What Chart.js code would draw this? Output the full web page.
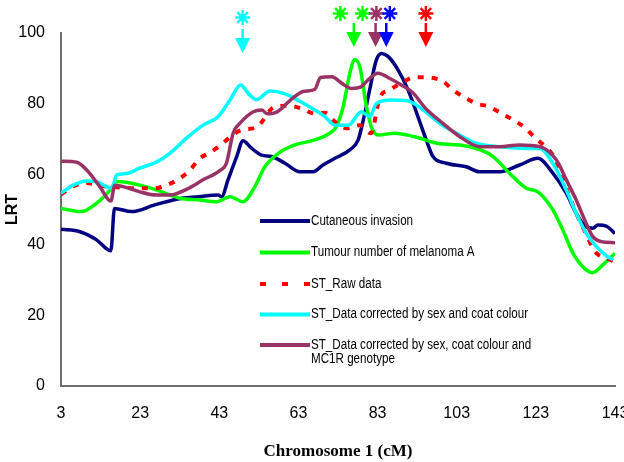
<!DOCTYPE html>
<html>
<head>
<meta charset="utf-8">
<script src="https://cdn.jsdelivr.net/npm/chart.js@4"></script>
<style>
html,body{margin:0;padding:0;background:#fff;}
canvas{display:block;}
</style>
</head>
<body>
<canvas id="c" width="624" height="462"></canvas>
<script>
// ---- data (cM positions and LRT values per series) ----
const xTicks = [3, 23, 43, 63, 83, 103, 123, 143];
const yTicks = [0, 20, 40, 60, 80, 100];

const invasionCM  = [3, 7.8, 12, 15.6, 16.5, 20.8, 26.7, 33.5, 37.7, 42.7, 43.6, 45.2, 47.4, 49, 51, 53.7, 56.2, 59.6, 63.4, 66.7, 69.2, 72.2, 76, 78.1, 79.3, 81, 82.7, 84, 85.7, 88.2, 90.7, 93.2, 95.3, 97, 100.4, 105.4, 108.8, 113.9, 118.9, 123.5, 127.3, 130.7, 133.2, 135.7, 137.4, 138.7, 140.8, 143];
const invasionLRT = [44.4, 43.7, 41.4, 38.3, 50.3, 49.4, 51.3, 53.2, 53.6, 54.1, 53.6, 58.4, 65, 69.5, 67.5, 65.4, 65, 63.1, 60.7, 60.7, 62.6, 64.5, 66.9, 69.7, 74.9, 83.9, 92.4, 94.2, 93.3, 89.5, 83.9, 76.3, 69.7, 65, 63.1, 62.1, 60.7, 60.7, 62.6, 64.5, 60.3, 54.6, 48.9, 45.1, 44.7, 45.6, 45.3, 43.2];

const tumourCM  = [3, 8.2, 12, 15.4, 17.1, 22.9, 27.2, 33, 38.1, 42.3, 45.7, 49, 52, 54.5, 57.9, 62.1, 67.1, 71.4, 72.6, 74.3, 76, 77.2, 78.5, 80.2, 81.4, 83.1, 87.3, 92.4, 98.7, 103.8, 108.8, 112.2, 116.4, 120.6, 123.5, 127.3, 129.8, 132.4, 135.7, 137.4, 139.9, 143];
const tumourLRT = [50.3, 49.4, 51.8, 55.5, 57.9, 56.9, 55.5, 53.2, 52.7, 52.2, 53.6, 52.2, 56.5, 62.1, 65.9, 68.3, 69.7, 72, 73.5, 79.1, 88.6, 92.4, 90.5, 79.1, 73.5, 71.1, 71.6, 70.6, 68.6, 68.3, 67, 65, 60.2, 56, 55, 49.9, 44.2, 37.6, 32.9, 32.1, 34.3, 37.6];

const rawCM  = [3, 6, 9.5, 12.4, 17, 22.5, 26.7, 29.7, 32.6, 35.6, 38.1, 40.6, 43.1, 45.7, 48.6, 52.4, 57, 60.4, 63.8, 67.1, 69.7, 72.2, 75.1, 78.5, 81.3, 83.6, 86.1, 89.4, 92.4, 95.8, 99.5, 102, 104.6, 108, 111.3, 114.3, 117.2, 120.2, 122.7, 125.2, 127.8, 130.7, 133.2, 135.7, 138, 140.8, 143];
const rawLRT = [54.3, 56.5, 57.5, 56.8, 56.3, 56, 56, 56.9, 58.5, 61.2, 64.5, 66.1, 68, 70.5, 72.5, 73.3, 79.1, 79.4, 78.6, 77.2, 77.4, 74.9, 73, 73.9, 71.6, 81.8, 83.9, 86.1, 87.5, 87.4, 86.3, 83.9, 82, 80, 79.1, 77.2, 75.4, 73.2, 70.4, 68, 64.5, 56, 49, 43, 38, 36.2, 35.2];

const sexCoatCM  = [3, 6.1, 9.5, 12, 14.5, 15.8, 17.1, 19.6, 22.9, 27.2, 30.5, 34.7, 38.9, 42.7, 45.7, 48.4, 50.3, 52.4, 55.8, 59.3, 63.6, 67.1, 69.7, 72.2, 75.6, 78.9, 81, 82.7, 86.5, 90.5, 94.3, 98.7, 102.9, 108, 113.9, 122.3, 124, 127.3, 130.7, 133.2, 135.7, 138.3, 141.2, 142.5];
const sexCoatLRT = [54.6, 56.9, 58.1, 57.9, 56.5, 56, 59.8, 60.2, 61.7, 63.5, 65.9, 70.2, 73.9, 76.3, 81, 85.3, 82.9, 81.1, 83.6, 82.9, 80.5, 78.2, 76.3, 73.9, 73.9, 77.7, 76.3, 80, 81, 80.8, 78.4, 74.4, 71.6, 68.7, 67.8, 67.3, 67.3, 63.1, 55.5, 48.9, 43.3, 39.5, 36.6, 35.8];

const mc1rCM  = [3, 7, 9.5, 12.8, 15.6, 16.6, 19.6, 22.9, 27.2, 30.5, 34.7, 38.9, 43.1, 44.8, 46.5, 48.2, 51.6, 53.7, 55.1, 57.7, 61.5, 64.4, 67.1, 68.6, 71.4, 73.9, 76.4, 78.9, 80.6, 83.1, 86.1, 89, 91.8, 95.1, 99.5, 103.8, 108.8, 113.9, 118.9, 124, 128.2, 130.7, 133.2, 135.7, 137.4, 139.5, 143];
const mc1rLRT = [63.7, 63.4, 61.2, 56.5, 52.4, 56.9, 56.2, 55, 54.1, 54.1, 55.7, 58.4, 61, 63.1, 71.6, 74.4, 77.7, 78.2, 77.1, 77.7, 81.5, 83.5, 84, 87.4, 87.6, 85.8, 84.3, 84.8, 86.7, 88.6, 87.1, 85.3, 83.2, 78.7, 74.4, 70.6, 67.8, 67.8, 68.3, 67.8, 64, 58.4, 52.7, 46.1, 42.3, 40.9, 40.6];

const seriesNames = ['Cutaneous invasion', 'Tumour number of melanoma A', 'ST_Raw data', 'ST_Data corrected by sex and coat colour', 'ST_Data corrected by sex, coat colour and|MC1R genotype'];

// peak markers (arrows) and significance asterisks, in cM
const arrowCM = [48.9, 77.0, 82.5, 85.2, 95.2];
const arrowColor = ['#00ffff', '#00ff00', '#993366', '#0000ff', '#ff0000'];
const asteriskCM = [48.9, 73.6, 79.2, 82.7, 86.1, 95.2];
const asteriskColor = ['#00ffff', '#00ff00', '#00ff00', '#993366', '#0000ff', '#ff0000'];

// ---- build ----
const zip = (xs, ys) => xs.map((x, i) => ({x: x, y: ys[i]}));
const colors = ['#000080', '#00ff00', '#ff0000', '#00ffff', '#993366'];
const dataPairs = [[invasionCM, invasionLRT], [tumourCM, tumourLRT], [rawCM, rawLRT], [sexCoatCM, sexCoatLRT], [mc1rCM, mc1rLRT]];

const datasets = dataPairs.map((p, i) => ({
  label: seriesNames[i].replace('|', ' '),
  data: zip(p[0], p[1]),
  borderColor: colors[i],
  backgroundColor: colors[i],
  borderWidth: i === 2 ? 4 : 3.5,
  borderDash: i === 2 ? [6, 8] : [],
  fill: false,
  pointRadius: 0,
  cubicInterpolationMode: 'monotone',
  order: 5 - i
}));

const sans = "Arial, 'Liberation Sans', sans-serif";

const overlay = {
  id: 'overlay',
  afterDraw(chart) {
    const ctx = chart.ctx;
    const xs = chart.scales.x;
    ctx.save();
    // legend
    const rowsY = [221, 252.5, 284, 314.5, 345];
    ctx.textBaseline = 'middle';
    ctx.textAlign = 'left';
    seriesNames.forEach((name, i) => {
      const y = rowsY[i];
      ctx.strokeStyle = colors[i];
      ctx.lineWidth = 4;
      ctx.beginPath();
      if (i === 2) {
        [[260, 266], [282, 288], [304, 310]].forEach(s => { ctx.moveTo(s[0], y); ctx.lineTo(s[1], y); });
      } else {
        ctx.moveTo(260, y); ctx.lineTo(310, y);
      }
      ctx.stroke();
      ctx.fillStyle = '#000';
      name.split('|').forEach((ln, k) => {
        ctx.save();
        ctx.translate(311, y + k * 14.5);
        ctx.scale(0.83, 1);
        ctx.font = '14px ' + sans;
        ctx.fillText(ln, 0, 0);
        ctx.restore();
      });
    });
    // arrows
    arrowCM.forEach((cm, i) => {
      const x = xs.getPixelForValue(cm);
      const d = i === 0 ? 6 : 0;
      ctx.strokeStyle = arrowColor[i];
      ctx.fillStyle = arrowColor[i];
      ctx.lineWidth = 2.5;
      ctx.beginPath();
      ctx.moveTo(x, 23 + d); ctx.lineTo(x, 33 + d);
      ctx.stroke();
      ctx.beginPath();
      ctx.moveTo(x - 7.5, 32 + d); ctx.lineTo(x + 7.5, 32 + d); ctx.lineTo(x, 47 + d);
      ctx.closePath();
      ctx.fill();
    });
    // asterisks
    asteriskCM.forEach((cm, i) => {
      const x = xs.getPixelForValue(cm);
      const y = i === 0 ? 17.5 : 13.5;
      ctx.strokeStyle = asteriskColor[i];
      ctx.lineWidth = 2.4;
      ctx.beginPath();
      for (let k = 0; k < 4; k++) {
        const a = k * Math.PI / 4;
        const r = 7.5;
        ctx.moveTo(x - r * Math.cos(a), y - r * Math.sin(a));
        ctx.lineTo(x + r * Math.cos(a), y + r * Math.sin(a));
      }
      ctx.stroke();
    });
    ctx.restore();
  }
};

new Chart(document.getElementById('c'), {
  type: 'line',
  data: { datasets: datasets },
  plugins: [overlay],
  options: {
    responsive: false,
    animation: false,
    layout: { padding: { top: 33, right: 9, left: 0, bottom: 0 } },
    plugins: { legend: { display: false }, tooltip: { enabled: false } },
    scales: {
      x: {
        type: 'linear', min: 3, max: 143,
        afterBuildTicks: s => { s.ticks = xTicks.map(v => ({ value: v })); },
        afterFit: s => { s.height = 76; s.paddingLeft = 0; s.paddingRight = 0; },
        grid: { display: false, drawTicks: false },
        border: { display: true, color: '#6e6e6e', width: 2 },
        ticks: { padding: 18, color: '#000', font: { family: sans, size: 16 }, maxRotation: 0, autoSkip: false },
        title: { display: true, text: 'Chromosome 1 (cM)', color: '#000', font: { family: "'Liberation Serif', 'Times New Roman', serif", size: 17, weight: 'bold' }, padding: { top: 0, bottom: 0 } }
      },
      y: {
        min: 0, max: 100,
        afterBuildTicks: s => { s.ticks = yTicks.map(v => ({ value: v })); },
        afterFit: s => { s.width = 61; s.paddingTop = 0; s.paddingBottom = 0; },
        grid: { display: false, drawTicks: false },
        border: { display: true, color: '#6e6e6e', width: 2 },
        ticks: { padding: 16, color: '#000', font: { family: sans, size: 16 } },
        title: { display: true, text: 'LRT', color: '#000', font: { family: sans, size: 16, weight: 'bold' }, padding: { top: 3, bottom: 0 } }
      }
    }
  }
});
</script>
</body>
</html>
